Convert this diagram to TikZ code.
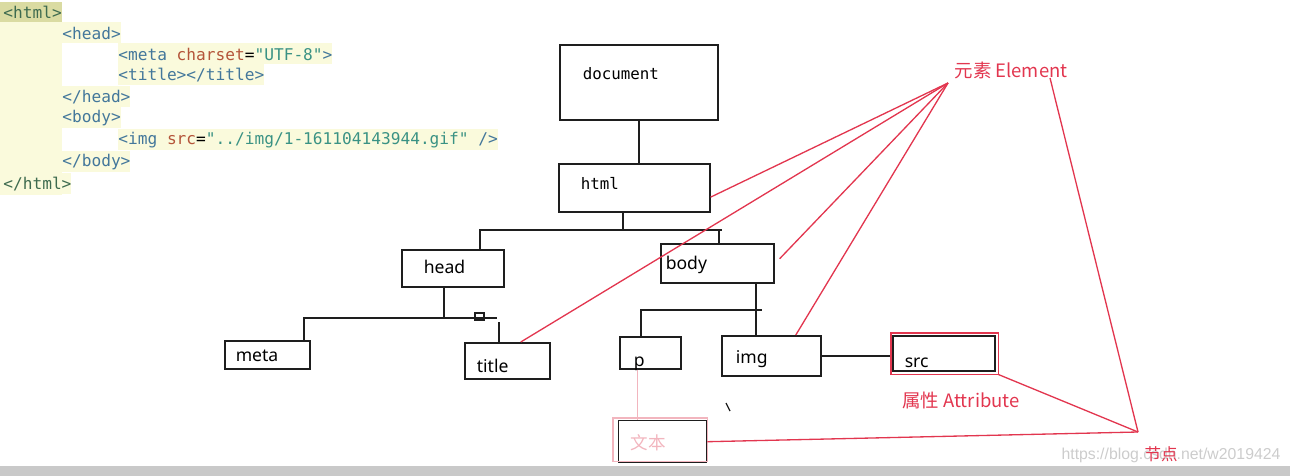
\documentclass[tikz,border=0pt]{standalone}
\usepackage{fontspec}
\setsansfont{Noto Sans}
\setmonofont{DejaVu Sans Mono}
\newfontfamily\cjk{Noto Sans CJK SC}
\usetikzlibrary{positioning}
\definecolor{Ink}{HTML}{1E1E1E}
\definecolor{CodeBg}{HTML}{FAFADC}
\definecolor{HtmlBg}{HTML}{DADBA2}
\definecolor{HtmlTag}{HTML}{3E6B4F}
\definecolor{Tag}{HTML}{43779B}
\definecolor{Attr}{HTML}{B4553A}
\definecolor{Val}{HTML}{3A9284}
\definecolor{Elem}{HTML}{E2364F}
\definecolor{Pink}{HTML}{F2B5BE}
\definecolor{Bar}{HTML}{C9C9C9}
\newcommand\pxu{0.02cm}
\newcommand\ctag[1]{\textcolor{Tag}{#1}}
\newcommand\cattr[1]{\textcolor{Attr}{#1}}
\newcommand\cval[1]{\textcolor{Val}{#1}}

\begin{document}
\begin{tikzpicture}[x=0.02cm,y=-0.02cm,
  box/.style={draw=Ink,line width=0.9pt,anchor=north west,inner ysep=0pt,align=left,
    text depth=0pt,font=\sffamily\fontsize{10}{12}\selectfont},
  boxdim/.style n args={4}{minimum width=#1*\pxu,minimum height=#2*\pxu,inner xsep=#3*\pxu,
    text width=(#1-2*#3)*\pxu,text height=#4pt},
  wire/.style={Ink,line width=0.9pt},
  redline/.style={Elem,line width=0.75pt},
  redlbl/.style={text=Elem,inner sep=0pt,font=\cjk\fontsize{10.5}{12}\selectfont},
  codeln/.style={anchor=west,inner sep=0pt,minimum height=21*\pxu,fill=CodeBg,
    font=\ttfamily\fontsize{9.2}{11}\selectfont}]
  \useasboundingbox (0,0) rectangle (1290,476);

  \fill[CodeBg] (0,22) rectangle (62,195);
  \fill[HtmlBg] (0,2) rectangle (62,22);
  \node[codeln,fill=none,text=HtmlTag] (ln12) at (3,12) {<html>};
  \foreach \y/\x/\code in {
    33/62/{\ctag{<head>}},
    54/118/{\ctag{<meta} \cattr{charset}=\cval{"UTF-8"}\ctag{>}},
    75/118/{\ctag{<title></title>}},
    97/62/{\ctag{</head>}},
    118/62/{\ctag{<body>}},
    140/118/{\ctag{<img} \cattr{src}=\cval{"../img/1-161104143944.gif"} \ctag{/>}},
    162/62/{\ctag{</body>}}} {
    \node[codeln] (ln\y) at (\x,\y) {\code};
  }
  \node[codeln,text=HtmlTag] (ln184) at (3,184) {</html>};

  \node[box,boxdim={158}{75}{23}{0},text depth=2.8pt,font=\ttfamily\fontsize{9}{11}\selectfont] (doc) at (559,44) {document};
  \node[box,boxdim={151}{48}{22}{2.3},font=\ttfamily\fontsize{9}{11}\selectfont] (html) at (558,163) {html};
  \node[box,boxdim={102}{37}{22}{6.2}] (head) at (401,249) {head};
  \node[box,boxdim={113}{39}{5}{7.4}] (body) at (660,243) {body};
  \node[box,boxdim={85}{28}{11}{8}] (meta) at (224,340) {meta};
  \node[box,boxdim={85}{36}{12}{13.6}] (title) at (464,342) {title};
  \node[box,boxdim={61}{32}{14}{15.9}] (p) at (619,336) {p};
  \node[box,boxdim={99}{40}{14}{9}] (img) at (721,335) {img};
  \node[box,boxdim={102}{35}{12}{16.4}] (src) at (892,335) {src};
  \node[box,boxdim={88}{42}{12}{9},line width=0.8pt,text=Pink,font=\cjk\fontsize{10}{12}\selectfont] (txt) at (618,420) {文本};

  \draw[wire] (doc.south) -- (doc.south |- html.north);
  \coordinate (hb) at (623,230);
  \coordinate (hbL) at (480,230);
  \coordinate (hbR) at (722,230);
  \coordinate (hbB) at (719,230);
  \draw[wire] (hb |- html.south) -- (hb);
  \draw[wire] (hbL |- head.north) -- (hbL) -- (hbR);
  \draw[wire] (hbB) -- (hbB |- body.north);

  \coordinate (db) at (444,318);
  \coordinate (dbL) at (304,318);
  \coordinate (dbR) at (497,318);
  \coordinate (dbT) at (499,322);
  \draw[wire] (db |- head.south) -- (db);
  \draw[wire] (dbL |- meta.north) -- (dbL) -- (dbR);
  \draw[wire] (dbT) -- (dbT |- title.north);
  \draw[wire,line width=0.7pt] (475,313) rectangle (484,320);

  \coordinate (bb) at (756,310);
  \coordinate (bbL) at (641,310);
  \coordinate (bbR) at (762,310);
  \draw[wire] (bb |- body.south) -- (bb |- img.north);
  \draw[wire] (bbL |- p.north) -- (bbL) -- (bbR);
  \draw[wire] (img.east) -- (img.east -| src.west);
  \draw[wire,line width=0.7pt] (726,403) -- (730,411);

  \draw[redline] ([shift={(-0.02cm,0.04cm)}]src.north west) rectangle ([shift={(0.06cm,-0.06cm)}]src.south east);
  \draw[Pink,line width=0.7pt] ([shift={(-0.1cm,0.04cm)}]txt.north west) rectangle ([yshift=0.04cm]txt.south east);
  \draw[Pink,line width=0.7pt] ([xshift=-0.25cm]p.south) -- ([xshift=-0.25cm]p.south |- txt.north);

  \node[redlbl] (elem) at (1011,70) {元素 Element};
  \node[redlbl] (attr) at (961,400) {属性 Attribute};
  \node[font=\fontspec{Liberation Sans}\fontsize{9}{11}\selectfont,text=black!20,inner sep=0pt] (wm) at (1171,455) {https://blog.csdn.net/w2019424};
  \node[redlbl,font=\cjk\fontsize{9.4}{11}\selectfont] (jd) at (1161,454) {节点};

  \coordinate (elpt) at (948,83);
  \coordinate (elend) at (1050,78);
  \coordinate (jdpt) at (1138,432);
  \draw[redline] (elpt) -- (html.-7);
  \draw[redline] (elpt) -- ([xshift=0.27cm]title.north);
  \draw[redline] (elpt) -- ([xshift=0.1cm,yshift=0.09cm]body.east);
  \draw[redline] (elpt) -- ([xshift=0.49cm]img.north);
  \draw[redline] (elend) -- (jdpt);
  \draw[redline] ([shift={(0.06cm,-0.06cm)}]src.south east) -- (jdpt);
  \draw[redline] (txt.east) -- (jdpt);

  \fill[Bar] (0,466) rectangle (1290,476);
\end{tikzpicture}
\end{document}
